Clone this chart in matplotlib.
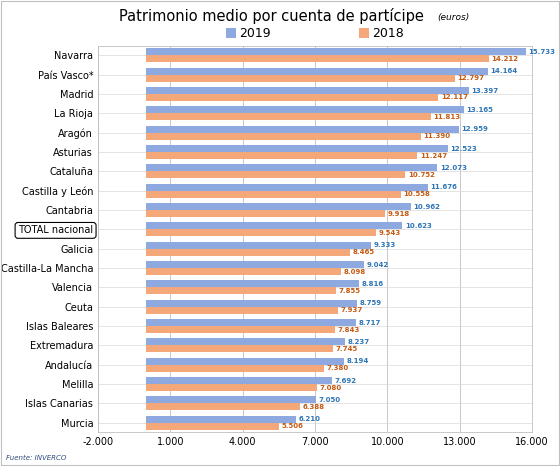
import matplotlib
matplotlib.use("Agg")
import matplotlib.pyplot as plt
import numpy as np

regions = ["Navarra","País Vasco*","Madrid","La Rioja","Aragón","Asturias","Cataluña","Castilla y León",
           "Cantabria","TOTAL nacional","Galicia","Castilla-La Mancha","Valencia","Ceuta","Islas Baleares",
           "Extremadura","Andalucía","Melilla","Islas Canarias","Murcia"]
v2019 = [15733,14164,13397,13165,12959,12523,12073,11676,10962,10623,9333,9042,8816,8759,8717,8237,8194,7692,7050,6210]
v2018 = [14212,12797,12117,11813,11390,11247,10752,10558,9918,9543,8465,8098,7855,7937,7843,7745,7380,7080,6388,5506]
ticks = [-2000,1000,4000,7000,10000,13000,16000]

def fmt(v):
    return f"{v:,}".replace(",", ".")

fig = plt.figure(figsize=(5.6,4.66), dpi=100)
ax = fig.add_axes([0.175, 0.072, 0.775, 0.83])
n = len(regions)
y = np.arange(n)
h = 0.36
c19, c18 = "#8ea9e0", "#f4a779"
ax.barh(y - h/2, v2019, height=h, color=c19, label="2019")
ax.barh(y + h/2, v2018, height=h, color=c18, label="2018")
for i in range(n):
    ax.text(v2019[i] + 100, y[i] - h/2, fmt(v2019[i]), va="center", ha="left", fontsize=5, color="#2e75b6", fontweight="bold")
    ax.text(v2018[i] + 100, y[i] + h/2, fmt(v2018[i]), va="center", ha="left", fontsize=5, color="#c55a11", fontweight="bold")
ax.set_ylim(n - 0.5, -0.5)
ax.set_xlim(-2000, 16000)
ax.set_xticks(ticks)
ax.set_xticklabels([fmt(t) for t in ticks], fontsize=7)
ax.set_yticks(y)
ax.set_yticklabels(regions, fontsize=7)
for lbl in ax.get_yticklabels():
    if lbl.get_text() == "TOTAL nacional":
        lbl.set_bbox(dict(boxstyle="round,pad=0.3", fc="white", ec="black", lw=0.8))
ax.tick_params(length=0)
ax.grid(axis="x", color="#bfbfbf", lw=0.6)
ax.grid(axis="y", color="#d9d9d9", lw=0.5)
ax.set_axisbelow(True)
for s in ax.spines.values():
    s.set_color("#bfbfbf"); s.set_linewidth(0.6)
fig.text(0.485, 0.965, "Patrimonio medio por cuenta de partícipe", ha="center", va="center", fontsize=10.5)
fig.text(0.81, 0.963, "(euros)", ha="center", va="center", fontsize=6.5, style="italic")
ax.legend(loc="lower center", bbox_to_anchor=(0.5, 0.995), ncol=2, frameon=False, fontsize=9,
          handlelength=0.8, handleheight=0.8, handletextpad=0.3, columnspacing=7, borderpad=0.1)
fig.text(0.01, 0.012, "Fuente: INVERCO", fontsize=5, style="italic", color="#2e4a80")
fig.patches.append(plt.Rectangle((0.002,0.002),0.996,0.996, transform=fig.transFigure, fill=False, ec="#bfbfbf", lw=0.8))
fig.savefig("out.png", dpi=100)
